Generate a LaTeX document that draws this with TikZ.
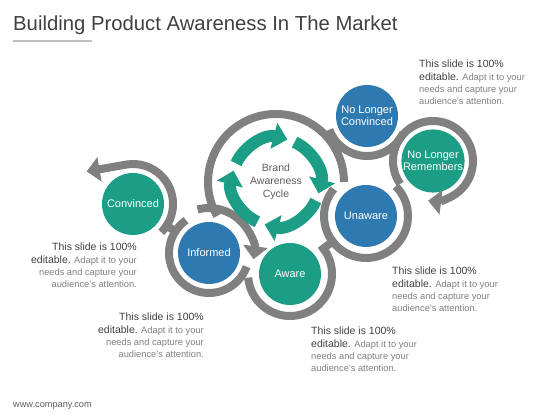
\documentclass[tikz,border=0pt]{standalone}
\usepackage{fontspec}
\setmainfont{Liberation Sans}
\usetikzlibrary{arrows.meta}

\definecolor{tealc}{HTML}{1B9E85}
\definecolor{bluec}{HTML}{2E7AB0}
\definecolor{ringc}{HTML}{808080}
\definecolor{darktxt}{HTML}{404040}
\definecolor{lighttxt}{HTML}{808080}

\tikzset{
  stage/.style={circle, minimum size=62pt, inner sep=0pt, text=white, align=center,
    font=\fontsize{11}{12.5}\selectfont},
  bluestage/.style={stage, fill=bluec},
  tealstage/.style={stage, fill=tealc},
  ring/.style={draw=ringc, line width=8pt},
  ringarrow/.style={ring, -{Triangle[width=24pt,length=13pt]}},
  cycarrow/.style={draw=tealc, line width=12pt, -{Triangle[width=26pt,length=14pt]}},
  note/.style={inner sep=0pt, text=lighttxt, font=\fontsize{9.3}{12.3}\selectfont},
}
\newcommand{\notehead}[1]{{\fontsize{10.5}{12.3}\selectfont\color{darktxt}#1}}

\begin{document}
\begin{tikzpicture}[x=1pt, y=1pt]
    \useasboundingbox[fill=white] (0,0) rectangle (560,420);

    % Title
    \node[anchor=base west, inner sep=0pt, text=darktxt, font=\fontsize{20.3}{24}\selectfont] (title) at (13,389)
        {Building Product Awareness In The Market};
    \draw[draw=black!25, line width=2.5pt] (13,379) -- (92,379);

    % Stages of the cycle
    \node[tealstage] (conv) at (133,216) {Convinced};
    \node[bluestage] (inf) at (209,167) {Informed};
    \node[tealstage] (aw) at (290,146) {Aware};
    \node[bluestage] (unaw) at (366,204) {Unaware};
    \node[bluestage] (nlc) at (367,304) {No Longer\\Convinced};
    \node[tealstage] (nlr) at (433,259) {No Longer\\Remembers};
    \node[align=center, text=darktxt!85, font=\fontsize{10.5}{13}\selectfont] (cyc) at (276,238)
        {Brand\\Awareness\\Cycle};

    % Gray rings round the stages
    \draw[ring] (cyc.center) ++(210:68) arc[start angle=210, end angle=0, radius=68];
    \draw[ring] (nlc.center) ++(200:40) arc[start angle=200, end angle=335, radius=40];
    \draw[ring] (unaw.center) ++(140:42) arc[start angle=140, end angle=405, radius=42];
    \draw[ring] (aw.center) ++(185:42) arc[start angle=185, end angle=400, radius=42];
    \draw[ring] (inf.center) ++(125:40) arc[start angle=125, end angle=340, radius=40];
    \draw[ring, shorten <=36pt, shorten >=36pt] (conv.center) -- (inf.center);
    \draw[ring, shorten <=38pt, shorten >=38pt] (aw.center) -- (unaw.center);
    \draw[ringarrow] (conv.center) ++(-45:40) arc[start angle=-45, end angle=100, radius=40] -- ++(190:40);
    \draw[ringarrow] (nlr.center) ++(215:40) arc[start angle=215, end angle=-97, radius=40];
    \draw[ringarrow] (inf.center) ++(105:45) arc[start angle=105, end angle=-8, radius=45];
    \draw[white, line width=1.5pt] (inf.center) ++(106:40) -- ++(106:10);

    % Green cycle arrows
    \foreach \s/\e in {155/75, 65/-15, -25/-105, -115/-195}
        \draw[cycarrow] (cyc.center) ++(\s:44) arc[start angle=\s, end angle=\e, radius=44];

    % Notes
    \node[note, anchor=north west, align=left] (noteA) at (419,360)
        {\notehead{This slide is 100\%}\\ \notehead{editable.} Adapt it to your\\ needs and capture your\\ audience's attention.};
    \node[note, anchor=north east, align=right] (noteB) at (137,177)
        {\notehead{This slide is 100\%}\\ \notehead{editable.} Adapt it to your\\ needs and capture your\\ audience's attention.};
    \node[note, anchor=north east, align=right] (noteC) at (204,107)
        {\notehead{This slide is 100\%}\\ \notehead{editable.} Adapt it to your\\ needs and capture your\\ audience's attention.};
    \node[note, anchor=north west, align=left] (noteD) at (392,153)
        {\notehead{This slide is 100\%}\\ \notehead{editable.} Adapt it to your\\ needs and capture your\\ audience's attention.};
    \node[note, anchor=north west, align=left] (noteE) at (311,93)
        {\notehead{This slide is 100\%}\\ \notehead{editable.} Adapt it to your\\ needs and capture your\\ audience's attention.};

    % Footer
    \node[anchor=base west, inner sep=0pt, text=darktxt!85, font=\fontsize{9.2}{11}\selectfont] (site) at (13,12)
        {www.company.com};
\end{tikzpicture}
\end{document}
